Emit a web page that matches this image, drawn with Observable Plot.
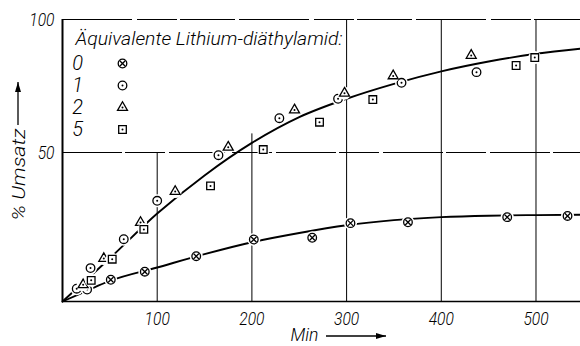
<!DOCTYPE html>
<html><head><meta charset="utf-8">
<script src="https://cdn.jsdelivr.net/npm/d3@7"></script>
<script src="https://cdn.jsdelivr.net/npm/@observablehq/plot@0.6"></script>
<style>
html,body{margin:0;padding:0;background:#fff;}
#chart{width:580px;height:346px;}
</style></head><body><div id="chart"></div>
<script>
// ---- data ----
const xTicks = [100, 200, 300, 400, 500];
const gridTop = [50, 57, 100, 100, 100];   // how far each vertical grid line reaches (legend area is blank)
const yTicks = [50, 100];
const legendTitle = "Äquivalente Lithium-diäthylamid:";
const seriesKeys = ["0", "1", "2", "5"];
const xLabel = "Min";
const yLabel = "% Umsatz";

// 0 equivalents (⊗)
const s0x = [51, 86.9, 141.2, 202, 263.7, 304.1, 364.8, 469.6, 533.3];
const s0y = [7.3, 10.0, 15.2, 20.8, 21.4, 26.3, 26.6, 28.3, 28.7];
// 1 equivalent (⊙)
const s1x = [15, 26, 29.6, 64.7, 100, 164.7, 229, 291, 358, 437.2];
const s1y = [4.3, 4.0, 11.2, 20.9, 33.8, 49.1, 62.9, 70.2, 76.2, 80.2];
// 2 equivalents (△)
const s2x = [21.8, 43.6, 82.4, 119, 175, 245, 297.8, 349.2, 431.6];
const s2y = [5.6, 14.4, 26.5, 36.9, 52.0, 66.0, 72.3, 78.8, 86.5];
// 5 equivalents (□)
const s5x = [30.3, 52.5, 85.9, 156.3, 212, 271.4, 327.7, 479, 498.7];
const s5y = [7.1, 14.2, 24.2, 38.8, 51.1, 61.4, 69.9, 82.7, 85.7];

// drawn curves
const curveAx = [0, 50, 100, 150, 200, 250, 300, 350, 400, 450, 500, 547];
const curveAy = [0, 14.5, 29.5, 42.3, 53.6, 63.3, 70.2, 75.8, 80.5, 84.2, 87.1, 89];
const curveBx = [0, 25, 50, 100, 150, 200, 250, 300, 350, 400, 450, 500, 547];
const curveBy = [0, 3.5, 6.9, 11.4, 15.9, 19.9, 23.0, 25.6, 27.3, 28.3, 28.8, 29.0, 29.1];

// ---- build ----
const zip = (xs, ys) => xs.map((x, i) => ({x, y: ys[i]}));
const S0 = zip(s0x, s0y), S1 = zip(s1x, s1y), S2 = zip(s2x, s2y), S5 = zip(s5x, s5y);
const CA = zip(curveAx, curveAy), CB = zip(curveBx, curveBy);
const grid = xTicks.map((x, i) => ({x, top: gridTop[i]}));

const FONT = 'Roboto,"Liberation Sans",sans-serif';
const SW = 1.3;

function symbolMarks(kind, data, opts) {
  const base = Object.assign({}, opts);
  const marks = [Plot.dot(data, {...base, r: 6.5, fill: "white", stroke: "none"})];
  if (kind === "0") {
    marks.push(Plot.dot(data, {...base, r: 4.3, fill: "white", stroke: "black", strokeWidth: SW}));
    marks.push(Plot.dot(data, {...base, symbol: "times", r: 2.6, stroke: "black", strokeWidth: SW}));
  } else {
    const sym = kind === "1" ? "circle" : kind === "2" ? "triangle" : "square";
    const r = kind === "1" ? 4.3 : kind === "2" ? 3.7 : 4.3;
    marks.push(Plot.dot(data, {...base, symbol: sym, r, fill: "white", stroke: "black", strokeWidth: SW}));
    marks.push(Plot.dot(data, {...base, r: 1, fill: "black", stroke: "none"}));
  }
  return marks;
}

const legendMarks = [];
legendMarks.push(Plot.text([legendTitle], {frameAnchor: "top-left", dx: 13, dy: 19, textAnchor: "start",
  lineAnchor: "middle", fontSize: 19, text: d => d}));
seriesKeys.forEach((k, i) => {
  legendMarks.push(Plot.text([k], {frameAnchor: "top-left", dx: 15, dy: 44 + 22 * i, textAnchor: "middle",
    lineAnchor: "middle", fontSize: 20, text: d => d}));
  legendMarks.push(...symbolMarks(k, [k], {frameAnchor: "top-left", dx: 60, dy: 44 + 22 * i}));
});

const plot = Plot.plot({
  width: 580, height: 346,
  marginLeft: 62, marginRight: 0, marginTop: 19, marginBottom: 45,
  x: {type: "linear", domain: [0, 547], range: [62, 580], axis: null},
  y: {type: "linear", domain: [0, 50, 100], range: [301, 152, 19], axis: null},
  style: {fontFamily: FONT, fontStyle: "italic", fontWeight: 300, background: "white", color: "black", overflow: "visible"},
  marks: [
    Plot.ruleX(grid, {x: "x", y1: 0, y2: "top", stroke: "black", strokeWidth: 1}),
    Plot.ruleY([50], {x1: 0, x2: 547, stroke: "black", strokeWidth: 1, strokeDasharray: "60,3,40,4"}),
    Plot.ruleY([100], {x1: 0, x2: 547, stroke: "black", strokeWidth: 1.2, strokeDasharray: "70,5,40,3,55,4"}),
    Plot.ruleY([0], {x1: 0, x2: 547, stroke: "black", strokeWidth: 1.6}),
    Plot.ruleX([0], {y1: 0, y2: 100, stroke: "black", strokeWidth: 2}),
    Plot.text(xTicks, {x: d => d, frameAnchor: "bottom", dy: 17, fontSize: 19, textAnchor: "middle", lineAnchor: "middle", text: d => String(d)}),
    Plot.text(yTicks, {y: d => d, frameAnchor: "left", dx: -8, textAnchor: "end", fontSize: 19, lineAnchor: "middle", text: d => String(d)}),
    Plot.text([xLabel], {frameAnchor: "bottom-left", dx: 242, dy: 33, fontSize: 19, textAnchor: "middle", lineAnchor: "middle", text: d => d}),
    Plot.text([yLabel], {frameAnchor: "top-left", dx: -44, dy: 155, rotate: -90, fontSize: 19, textAnchor: "middle", lineAnchor: "middle", text: d => d}),
    Plot.line(CA, {x: "x", y: "y", curve: "monotone-x", stroke: "black", strokeWidth: 1.9}),
    Plot.line(CB, {x: "x", y: "y", curve: "monotone-x", stroke: "black", strokeWidth: 1.9}),
    ...symbolMarks("0", S0, {x: "x", y: "y"}),
    ...symbolMarks("1", S1, {x: "x", y: "y"}),
    ...symbolMarks("2", S2, {x: "x", y: "y"}),
    ...symbolMarks("5", S5, {x: "x", y: "y"}),
    ...legendMarks
  ]
});
document.getElementById("chart").appendChild(plot);

const svg = d3.select(plot);
// narrow technical lettering: squeeze labels to the widths they have in the original
svg.selectAll("text").each(function () {
  const t = this.textContent;
  const sel = d3.select(this);
  if (t === legendTitle) sel.attr("textLength", 267).attr("lengthAdjust", "spacingAndGlyphs");
  else if (/^\d+$/.test(t) && t.length > 1) sel.attr("textLength", 8.4 * t.length).attr("lengthAdjust", "spacingAndGlyphs");
  else if (t === yLabel) sel.attr("textLength", 92).attr("lengthAdjust", "spacingAndGlyphs");
  else if (t === xLabel) sel.attr("textLength", 28).attr("lengthAdjust", "spacingAndGlyphs");
});

// axis-label arrows
const defs = svg.append("defs");
defs.append("marker").attr("id", "ah").attr("viewBox", "0 0 10 6").attr("refX", 10).attr("refY", 3)
  .attr("markerWidth", 14).attr("markerHeight", 6).attr("markerUnits", "userSpaceOnUse").attr("orient", "auto")
  .append("path").attr("d", "M0,0 L10,3 L0,6 Z").attr("fill", "black");
svg.append("line").attr("x1", 326).attr("y1", 336).attr("x2", 386).attr("y2", 336)
  .attr("stroke", "black").attr("stroke-width", 1.3).attr("marker-end", "url(#ah)");
svg.append("line").attr("x1", 18).attr("y1", 125).attr("x2", 18).attr("y2", 82)
  .attr("stroke", "black").attr("stroke-width", 1.3).attr("marker-end", "url(#ah)");
</script></body></html>
